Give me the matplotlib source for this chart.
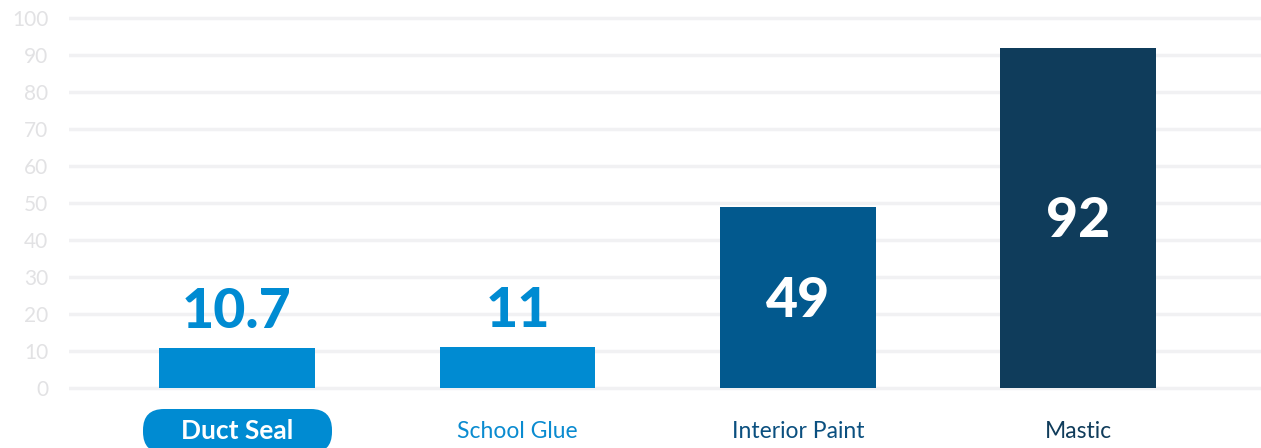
import matplotlib
matplotlib.use("Agg")
import matplotlib.pyplot as plt
from matplotlib.patches import FancyBboxPatch

categories = ["Duct Seal", "School Glue", "Interior Paint", "Mastic"]
values = [10.7, 11, 49, 92]
value_labels = ["10.7", "11", "49", "92"]
bar_colors = ["#008bd2", "#008bd2", "#02598e", "#0f3c5b"]
label_colors = ["#ffffff", "#0a8bd0", "#0a4f7f", "#103c5b"]
yticks = list(range(0, 101, 10))

plt.rcParams['font.family'] = ['Lato', 'DejaVu Sans']

W, H = 1261, 448
fig = plt.figure(figsize=(W / 100, H / 100), dpi=100)

# axes placed in pixel terms: y=0 at 388px, y=100 at 18px
px_per_unit = 3.7
ylo, yhi = -2, 102
bottom_px = 388 + 2 * px_per_unit
top_px = 18 - 2 * px_per_unit
ax = fig.add_axes([69 / W, 1 - bottom_px / H, 1 - 69 / W, (bottom_px - top_px) / H])
ax.set_ylim(ylo, yhi)
ax.set_xlim(-0.599, 3.651)

for t in yticks:
    ax.axhline(t, color="#f1f1f3", lw=2.5, zorder=0)

x = list(range(len(categories)))
ax.bar(x, values, width=0.556, color=bar_colors, zorder=2)

for i, (v, lab) in enumerate(zip(values, value_labels)):
    if v < 30:
        ax.annotate(lab, (i, v), xytext=(0, 26), textcoords="offset points",
                    ha="center", va="center", fontsize=40, fontweight="black",
                    color=bar_colors[i], zorder=3)
    else:
        ax.text(i, v / 2 - 1, lab, ha="center", va="center", fontsize=40,
                fontweight="black", color="white", zorder=3)

ax.set_yticks(yticks)
ax.set_yticklabels([str(t) for t in yticks], fontsize=15, color="#e2e2e4")
ax.tick_params(axis="y", length=0, pad=15)
ax.set_xticks([])
for s in ax.spines.values():
    s.set_visible(False)

# overlay in pixel units for the category labels and the pill
ov = fig.add_axes([0, 0, 1, 1], zorder=5)
ov.set_xlim(0, W)
ov.set_ylim(H, 0)
ov.axis("off")

label_y = 431
for i, cat in enumerate(categories):
    xp = ax.transData.transform((i, 0))[0]
    if i == 0:
        pill = FancyBboxPatch((143, 409), 332 - 143, 44,
                              boxstyle="round,pad=0,rounding_size=21",
                              facecolor="#008bd2", edgecolor="none")
        ov.add_patch(pill)
        ov.text(xp, label_y, cat, ha="center", va="center", fontsize=19,
                fontweight="bold", color="white")
    else:
        ov.text(xp, label_y, cat, ha="center", va="center", fontsize=16.5,
                color=label_colors[i])

fig.savefig("out.png", dpi=100)
